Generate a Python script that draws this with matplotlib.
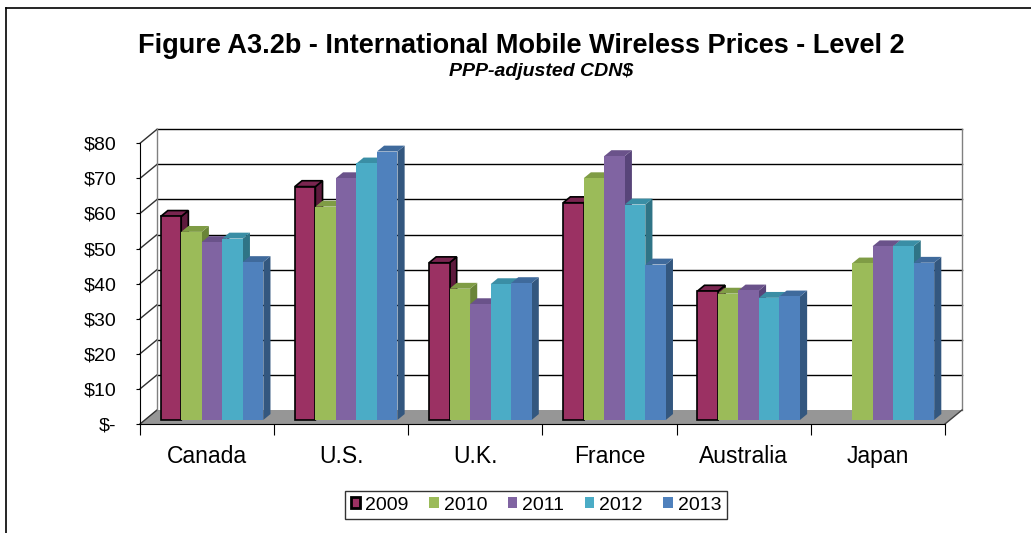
import matplotlib
matplotlib.use("Agg")
import matplotlib.pyplot as plt
from matplotlib.patches import Rectangle, Polygon, Patch
from matplotlib.lines import Line2D

plt.rcParams['font.family'] = ['Liberation Sans', 'DejaVu Sans']

# === Dati ===
countries = ["Canada", "U.S.", "U.K.", "France", "Australia", "Japan"]
years = ["2009", "2010", "2011", "2012", "2013"]
p2009 = [58.0, 66.5, 44.8, 61.9, 36.7, None]
p2010 = [53.6, 60.8, 37.4, 68.9, 36.0, 44.6]
p2011 = [50.7, 68.9, 33.0, 75.2, 36.9, 49.5]
p2012 = [51.7, 73.1, 38.7, 61.4, 34.8, 49.5]
p2013 = [45.0, 76.5, 39.0, 44.3, 35.2, 44.8]
series = [p2009, p2010, p2011, p2012, p2013]
ytick_labels = ["$-", "$10", "$20", "$30", "$40", "$50", "$60", "$70", "$80"]

# colori: fronte, sopra, lato
front = ["#9b3163", "#9bbb59", "#8064a2", "#4bacc6", "#4f81bd"]
top = ["#7a2550", "#7f9c45", "#6a528a", "#3a8ea5", "#3f6a9c"]
side = ["#5e1a3d", "#6a8538", "#584479", "#2f7486", "#33577f"]

W, H = 1031, 533
fig = plt.figure(figsize=(W / 100, H / 100), dpi=100)

# assi sul piano frontale: x categorie, y valori
ax = fig.add_axes([140 / W, (H - 424) / H, 805 / W, 280.7 / H])
ax.set_xlim(-0.5, 5.5)
ax.set_ylim(0, 80)

# profondita' 3D in unita' dati
DX = 17 / (805 / 6)
DY = 14 / (280.7 / 80)

def off(d):
    return d * DX, d * DY

for s in ["top", "right"]:
    ax.spines[s].set_visible(False)
ax.spines["left"].set_color("black")
ax.spines["bottom"].set_color("black")

ax.set_yticks(range(0, 90, 10))
ax.set_yticklabels(ytick_labels, fontsize=14)
ax.tick_params(axis="y", length=3, pad=14, color="black")
ax.set_xticks([i - 0.5 for i in range(7)])
ax.set_xticklabels([])
ax.set_xticks(range(6), minor=True)
ax.set_xticklabels(countries, minor=True, fontsize=16.5)
ax.tick_params(axis="x", which="major", length=8, color="black")
ax.tick_params(axis="x", which="minor", length=0, pad=15)

bx, by = off(1)
# pavimento
ax.add_patch(Polygon([(-0.5, 0), (5.5, 0), (5.5 + bx, by), (-0.5 + bx, by)],
                     closed=True, facecolor="#969696", edgecolor="none", zorder=1, clip_on=False))
ax.plot([5.5, 5.5 + bx], [0, by], color="#404040", lw=1, zorder=2, clip_on=False)

# parete di fondo e linee della griglia
for v in range(10, 90, 10):
    ax.plot([-0.5 + bx, 5.5 + bx], [v + by, v + by], color="black", lw=1, zorder=1, clip_on=False)
for v in range(0, 90, 10):
    ax.plot([-0.5, -0.5 + bx], [v, v + by], color="#303030", lw=1, zorder=1, clip_on=False)
ax.plot([-0.5 + bx, -0.5 + bx], [by, 80 + by], color="#808080", lw=1, zorder=1, clip_on=False)
ax.plot([5.5 + bx, 5.5 + bx], [by, 80 + by], color="#808080", lw=1, zorder=1, clip_on=False)

# barre 3D
w = 0.153
d0, d1 = 0.29, 0.71
x0d, y0d = off(d0)
ddx, ddy = off(d1 - d0)
z = 3
for i in range(len(countries)):
    for j, vals in enumerate(series):
        v = vals[i]
        if v is None:
            continue
        x0 = i + (j - 2) * w - w / 2 + x0d
        y0 = y0d
        ec = "black" if j == 0 else "none"
        lw = 1.2 if j == 0 else 0
        ax.add_patch(Polygon([(x0 + w, y0), (x0 + w + ddx, y0 + ddy), (x0 + w + ddx, y0 + v + ddy), (x0 + w, y0 + v)],
                             closed=True, facecolor=side[j], edgecolor=ec, lw=lw, zorder=z, clip_on=False))
        ax.add_patch(Polygon([(x0, y0 + v), (x0 + w, y0 + v), (x0 + w + ddx, y0 + v + ddy), (x0 + ddx, y0 + v + ddy)],
                             closed=True, facecolor=top[j], edgecolor=ec, lw=lw, zorder=z, clip_on=False))
        ax.add_patch(Rectangle((x0, y0), w, v, facecolor=front[j], edgecolor=ec, lw=lw, zorder=z, clip_on=False))
        z += 1

# titolo
fig.text(521 / W, 1 - 46 / H, "Figure A3.2b - International Mobile Wireless Prices - Level 2",
         ha="center", va="center", fontsize=19.5, fontweight="bold")
fig.text(541 / W, 1 - 72 / H, "PPP-adjusted CDN$", ha="center", va="center",
         fontsize=14, fontweight="bold", fontstyle="italic")

# legenda
handles = [Patch(facecolor=front[j], edgecolor="black" if j == 0 else "none",
                 lw=2 if j == 0 else 0) for j in range(5)]
leg = fig.legend(handles, years, loc="center", bbox_to_anchor=(536 / W, 1 - 505 / H), ncol=5,
                 fontsize=14, frameon=True, fancybox=False, handlelength=0.5, handleheight=0.5,
                 handletextpad=0.25, columnspacing=1.05, borderpad=0.3)
leg.get_frame().set_edgecolor("black")
leg.get_frame().set_linewidth(1)

# cornice
fig.add_artist(Line2D([6 / W, 6 / W], [0, 1 - 8 / H], color="black", lw=1.2))
fig.add_artist(Line2D([6 / W, 1], [1 - 8 / H, 1 - 8 / H], color="black", lw=1.2))

fig.savefig("out.png", dpi=100)
